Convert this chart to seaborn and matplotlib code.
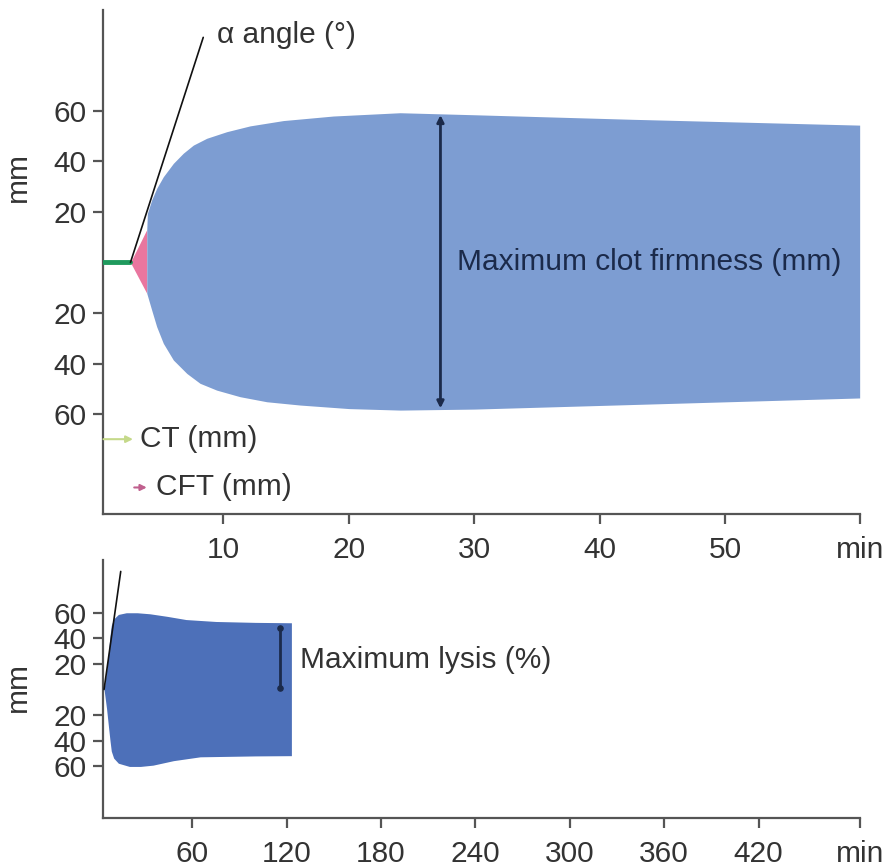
import numpy as np
import pandas as pd
import matplotlib
matplotlib.use("Agg")
import matplotlib.pyplot as plt
import seaborn as sns

# ---- data ----
# Top panel: clot formation (time in min, amplitude in mm)
top_time_upper = [2.6, 3.9, 3.95, 4.29, 4.69, 5.22, 6.02, 6.81, 7.61, 8.68, 10.27, 12.13,
                  14.78, 18.76, 24.08, 30.0, 42.6, 60.7]
top_upper      = [0.0, 13.0, 19.4, 24.7, 29.3, 33.9, 39.2, 43.2, 46.4, 49.1, 51.7, 54.0,
                  56.1, 57.9, 59.2, 58.4, 56.6, 54.3]
top_time_lower = [2.6, 3.9, 4.29, 4.69, 5.22, 6.02, 7.09, 8.14, 9.47, 11.33, 13.46, 16.11,
                  20.0, 24.1, 30.0, 60.7]
top_lower      = [0.0, -12.2, -18.8, -25.4, -32.0, -38.6, -43.9, -47.8, -50.5, -53.1, -55.1, -56.4,
                  -57.8, -58.4, -58.0, -53.6]
ct_end = 2.6          # clotting time (min)
cft_end = 3.9         # end of clot formation time segment
mcf_time = 27.3       # position of MCF arrow
alpha_line_x = [2.6, 8.4]
alpha_line_y = [0.0, 89.0]

# Bottom panel: lysis (time in min, amplitude in mm)
bot_time_upper = [3.9, 5.5, 6.8, 7.7, 8.5, 10, 13, 18, 25, 33, 44, 56, 75, 100, 123]
bot_upper      = [0, 15, 30, 42, 50, 55, 58.5, 59.8, 59.8, 59, 57, 54.5, 53, 52.3, 52]
bot_time_lower = [3.9, 5.5, 6.8, 7.7, 8.5, 10, 13, 20, 27, 35, 48, 65, 100, 123]
bot_lower      = [0, -15, -30, -40, -48, -53.5, -57.5, -60, -60, -59, -55.5, -52.5, -51.8, -51.6]
lysis_time = 115.8
lysis_range = [1.2, 47.7]
bot_alpha_x = [3.9, 14.5]
bot_alpha_y = [0.0, 92.0]

top_xticks = [10, 20, 30, 40, 50, 60.7]
top_xlabels = ["10", "20", "30", "40", "50", "min"]
bot_xticks = [60, 120, 180, 240, 300, 360, 420, 484.5]
bot_xlabels = ["60", "120", "180", "240", "300", "360", "420", "min"]
yticks = [60, 40, 20, -20, -40, -60]
ylabels = ["60", "40", "20", "20", "40", "60"]

# ---- style ----
sns.set_theme(style="ticks")
plt.rcParams["font.family"] = ["Liberation Sans", "DejaVu Sans"]
FS = 21.5
plt.rcParams.update({
    "axes.edgecolor": "#555555",
    "axes.linewidth": 1.6,
    "xtick.color": "#555555",
    "ytick.color": "#555555",
    "xtick.labelcolor": "#333333",
    "ytick.labelcolor": "#333333",
    "xtick.major.size": 7.5,
    "ytick.major.size": 7.5,
    "xtick.major.width": 1.6,
    "ytick.major.width": 1.6,
    "xtick.major.pad": 8,
    "ytick.major.pad": 4,
    "xtick.labelsize": FS,
    "ytick.labelsize": FS,
})

BLUE_TOP = "#7d9dd2"
BLUE_BOT = "#4d70b9"
PINK = "#e9769f"
GREEN = "#1f9a5d"
NAVY = "#1b2a4a"

fig = plt.figure(figsize=(8.87, 8.68), dpi=100)
ax1 = fig.add_axes([0.1158, 0.4078, 0.8538, 0.5806])
ax2 = fig.add_axes([0.1158, 0.0573, 0.8538, 0.2975])

# ---- top panel ----
t_grid = np.union1d(top_time_upper, top_time_lower)
up = np.interp(t_grid, top_time_upper, top_upper)
lo = np.interp(t_grid, top_time_lower, top_lower)
pink_mask = t_grid <= cft_end
ax1.fill_between(t_grid[pink_mask], lo[pink_mask], up[pink_mask], color=PINK, lw=0)
blue_mask = t_grid >= cft_end
ax1.fill_between(t_grid[blue_mask], lo[blue_mask], up[blue_mask], color=BLUE_TOP, lw=0)

ct_df = pd.DataFrame({"t": [0.39, ct_end], "v": [0, 0]})
sns.lineplot(data=ct_df, x="t", y="v", ax=ax1, color=GREEN, lw=3.5, zorder=5)
al_df = pd.DataFrame({"t": alpha_line_x, "v": alpha_line_y})
sns.lineplot(data=al_df, x="t", y="v", ax=ax1, color="#111111", lw=1.2, zorder=6)

mcf_up = np.interp(mcf_time, top_time_upper, top_upper)
mcf_lo = np.interp(mcf_time, top_time_lower, top_lower)
ax1.annotate("", xy=(mcf_time, mcf_up - 0.5), xytext=(mcf_time, mcf_lo + 0.5),
             arrowprops=dict(arrowstyle="<|-|>", color=NAVY, lw=2, mutation_scale=10,
                             shrinkA=0, shrinkB=0))
ax1.text(28.6, 0, "Maximum clot firmness (mm)", fontsize=FS, color=NAVY,
         va="center", ha="left")
ax1.text(9.5, 90, "α angle (°)", fontsize=FS, color="#333333", va="center", ha="left")

ax1.annotate("", xy=(2.8, -69.9), xytext=(0.45, -69.9),
             arrowprops=dict(arrowstyle="-|>", color="#c5d98a", lw=1.5, mutation_scale=10,
                             shrinkA=0, shrinkB=0))
ax1.text(3.4, -69.9, "CT (mm)", fontsize=FS, color="#333333", va="center", ha="left")
ax1.annotate("", xy=(3.9, -89), xytext=(2.9, -89),
             arrowprops=dict(arrowstyle="-|>", color="#c0608e", lw=1.5, mutation_scale=9,
                             shrinkA=0, shrinkB=0))
ax1.text(4.6, -89, "CFT (mm)", fontsize=FS, color="#333333", va="center", ha="left")

ax1.set_xlim(0.39, 60.73)
ax1.set_ylim(-99.5, 99.8)
ax1.set_xticks(top_xticks)
ax1.set_xticklabels(top_xlabels)
ax1.set_yticks(yticks)
ax1.set_yticklabels(ylabels)
ax1.set_xlabel("")
ax1.set_ylabel("mm", fontsize=FS, color="#333333")
ax1.yaxis.set_label_coords(-0.093, 0.669)
sns.despine(ax=ax1)

# ---- bottom panel ----
b_grid = np.union1d(bot_time_upper, bot_time_lower)
bup = np.interp(b_grid, bot_time_upper, bot_upper)
blo = np.interp(b_grid, bot_time_lower, bot_lower)
ax2.fill_between(b_grid, blo, bup, color=BLUE_BOT, lw=0)
bal_df = pd.DataFrame({"t": bot_alpha_x, "v": bot_alpha_y})
sns.lineplot(data=bal_df, x="t", y="v", ax=ax2, color="#111111", lw=1.2, zorder=6)
ax2.plot([lysis_time, lysis_time], lysis_range, color=NAVY, lw=2, zorder=7)
ax2.scatter([lysis_time, lysis_time], lysis_range, color=NAVY, s=14, zorder=8)
ax2.text(128.6, 23, "Maximum lysis (%)", fontsize=FS, color="#333333", va="center", ha="left")

ax2.set_xlim(3.05, 484.5)
ax2.set_ylim(-100.4, 100.9)
ax2.set_xticks(bot_xticks)
ax2.set_xticklabels(bot_xlabels)
ax2.set_yticks(yticks)
ax2.set_yticklabels(ylabels)
ax2.set_xlabel("")
ax2.set_ylabel("mm", fontsize=FS, color="#333333")
ax2.yaxis.set_label_coords(-0.093, 0.508)
sns.despine(ax=ax2)

fig.savefig("out.png", dpi=100)
